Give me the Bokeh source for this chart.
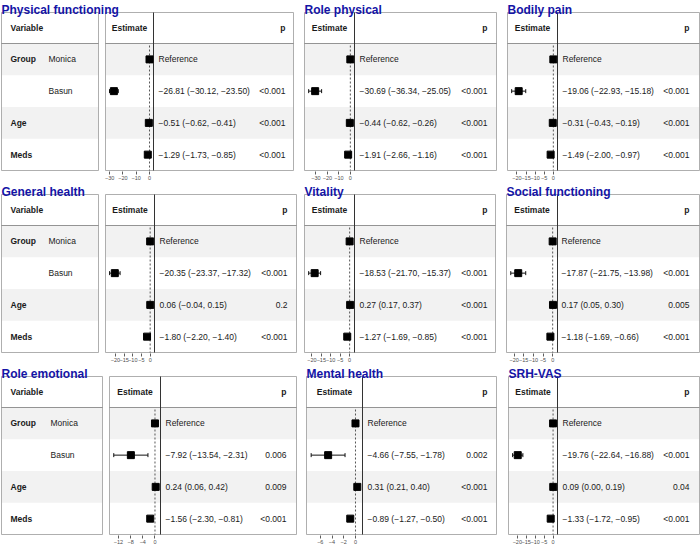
import numpy as np
from bokeh.plotting import figure
from bokeh.models import Range1d, LinearAxis, FixedTicker
from bokeh.layouts import column, row
from bokeh.core.properties import value
from bokeh.embed import file_html
from bokeh.resources import INLINE

# ---------------- data ----------------
titles = ["Physical functioning", "Role physical", "Bodily pain",
          "General health", "Vitality", "Social functioning",
          "Role emotional", "Mental health", "SRH-VAS"]
variables = ["Group", "", "Age", "Meds"]
levels = ["Monica", "Basun", "", ""]

basun_est = [-26.81, -30.69, -19.06, -20.35, -18.53, -17.87, -7.92, -4.66, -19.76]
basun_lo = [-30.12, -36.34, -22.93, -23.37, -21.70, -21.75, -13.54, -7.55, -22.64]
basun_hi = [-23.50, -25.05, -15.18, -17.32, -15.37, -13.98, -2.31, -1.78, -16.88]
basun_p = ["<0.001", "<0.001", "<0.001", "<0.001", "<0.001", "<0.001", "0.006", "0.002", "<0.001"]

age_est = [-0.51, -0.44, -0.31, 0.06, 0.27, 0.17, 0.24, 0.31, 0.09]
age_lo = [-0.62, -0.62, -0.43, -0.04, 0.17, 0.05, 0.06, 0.21, 0.00]
age_hi = [-0.41, -0.26, -0.19, 0.15, 0.37, 0.30, 0.42, 0.40, 0.19]
age_p = ["<0.001", "<0.001", "<0.001", "0.2", "<0.001", "0.005", "0.009", "<0.001", "0.04"]

meds_est = [-1.29, -1.91, -1.49, -1.80, -1.27, -1.18, -1.56, -0.89, -1.33]
meds_lo = [-1.73, -2.66, -2.00, -2.20, -1.69, -1.69, -2.30, -1.27, -1.72]
meds_hi = [-0.85, -1.16, -0.97, -1.40, -0.85, -0.66, -0.81, -0.50, -0.95]
meds_p = ["<0.001", "<0.001", "<0.001", "<0.001", "<0.001", "<0.001", "<0.001", "<0.001", "<0.001"]

axis_ticks = [[-30, -20, -10, 0], [-30, -20, -10, 0], [-20, -15, -10, -5, 0],
              [-20, -15, -10, -5, 0], [-20, -15, -10, -5, 0], [-20, -15, -10, -5, 0],
              [-12, -8, -4, 0], [-6, -4, -2, 0], [-20, -15, -10, -5, 0]]

# ---------------- layout (reference pixel geometry) ----------------
GEO = [
    dict(left=1, right=293, ea=105, eb=153, tx=158, pr=285, vr=98, vx=10, lx=48),
    dict(left=304, right=496, ea=304, eb=354, tx=359, pr=487),
    dict(left=507, right=699, ea=507, eb=557, tx=562, pr=689),
    dict(left=1, right=296, ea=105, eb=154, tx=159, pr=287, vr=98, vx=10, lx=48),
    dict(left=304, right=495, ea=304, eb=354, tx=359, pr=487),
    dict(left=506, right=699, ea=506, eb=557, tx=561, pr=689),
    dict(left=1, right=296, ea=109, eb=160, tx=165, pr=286, vr=102, vx=10, lx=50),
    dict(left=306, right=496, ea=306, eb=362, tx=367, pr=487),
    dict(left=508, right=699, ea=508, eb=557, tx=562, pr=689),
]
S_X = 1.0
S_Y = 1.0
M = 1
TITLE_H = 12
BOX_H = 158
HEAD_H = 31
ROW_H = (BOX_H - HEAD_H) / 4
FONT_NAME = "Liberation Sans"
FONT = value(FONT_NAME)
FS = "8.5px"
TXT = "#1a1a1a"
STRIPE = "#f2f2f2"
BORDER = "#9a9a9a"
TITLE_COL = "#1414a6"


def fmt(e, l, h):
    return f"{e:.2f} ({l:.2f}, {h:.2f})".replace("-", "\u2212")


def make_panel(k, start_px, prev_end):
    g = GEO[k]
    L = g["left"]
    W = g["right"] - L
    a, b = g["ea"] - L, g["eb"] - L
    tx, pr = g["tx"] - L, g["pr"] - L

    est = [0.0, basun_est[k], age_est[k], meds_est[k]]
    lo = [basun_lo[k], age_lo[k], meds_lo[k]]
    hi = [basun_hi[k], age_hi[k], meds_hi[k]]
    dlo = min(lo + [0.0])
    dhi = max(hi + [0.0])
    span = dhi - dlo
    r0, r1 = dlo - 0.1 * span, dhi + 0.1 * span
    kpx = (b - a) / (r1 - r0)
    es = r0 - (a + M) / kpx
    ee = r1 + (W + M - b) / kpx

    end_px = round((g["right"] + M) * S_X)
    fw = end_px - start_px
    p = figure(frame_width=fw, frame_height=round((BOX_H + M + TITLE_H) * S_Y),
               x_range=Range1d(-M, W + M), y_range=Range1d(BOX_H + M, -TITLE_H),
               output_backend="svg", toolbar_location=None,
               x_axis_location=None, y_axis_location=None,
               min_border_left=start_px - prev_end, min_border_right=0,
               min_border_top=0, min_border_bottom=0,
               outline_line_color=None, background_fill_color="white",
               border_fill_color="white")
    p.xgrid.grid_line_color = None
    p.ygrid.grid_line_color = None
    p.extra_x_ranges = {"est": Range1d(es, ee)}

    ys = [HEAD_H + (i + 0.5) * ROW_H for i in range(4)]
    has_var = "vr" in g
    main_left = a if has_var else 0

    # stripes
    stripe_rows = [0, 2]
    sl, sr, st, sb = [], [], [], []
    for i in stripe_rows:
        y0 = HEAD_H + i * ROW_H
        if has_var:
            sl.append(0); sr.append(g["vr"] - L)
            st.append(y0); sb.append(y0 + ROW_H)
        sl.append(main_left); sr.append(W)
        st.append(y0); sb.append(y0 + ROW_H)
    p.quad(left=sl, right=sr, top=st, bottom=sb, fill_color=STRIPE, line_color=None)

    # boxes
    bl, br = [main_left], [W]
    if has_var:
        bl.append(0); br.append(g["vr"] - L)
    p.quad(left=bl, right=br, top=[0] * len(bl), bottom=[BOX_H] * len(bl),
           fill_color=None, line_color=BORDER, line_width=0.8)
    p.segment(x0=bl, x1=br, y0=[HEAD_H] * len(bl), y1=[HEAD_H] * len(bl),
              line_color="#7a7a7a", line_width=0.8)
    # estimate column right line
    p.segment(x0=[b], x1=[b], y0=[0], y1=[BOX_H], line_color="#333333", line_width=1)

    # zero line
    p.segment(x0=[0], x1=[0], y0=[HEAD_H + 2], y1=[BOX_H], x_range_name="est",
              line_color="#444444", line_dash="2 2", line_width=0.9)

    # error bars
    yy = ys[1:]
    p.segment(x0=lo, x1=hi, y0=yy, y1=yy, x_range_name="est", line_color="#111111", line_width=1)
    cap_y0 = [y - 2 for y in yy]
    cap_y1 = [y + 2 for y in yy]
    p.segment(x0=lo, x1=lo, y0=cap_y0, y1=cap_y1, x_range_name="est", line_color="#111111", line_width=1)
    p.segment(x0=hi, x1=hi, y0=cap_y0, y1=cap_y1, x_range_name="est", line_color="#111111", line_width=1)
    p.scatter(x=est, y=ys, marker="square", size=7, color="black", x_range_name="est")

    # texts
    labels = ["Reference"] + [fmt(e, l, h) for e, l, h in zip(est[1:], lo, hi)]
    pvals = ["", basun_p[k], age_p[k], meds_p[k]]
    p.text(x=[tx] * 4, y=ys, text=labels, text_font=FONT, text_font_size=FS,
           text_baseline="middle", text_align="left", text_color=TXT)
    p.text(x=[pr] * 4, y=ys, text=pvals, text_font=FONT, text_font_size=FS,
           text_baseline="middle", text_align="right", text_color=TXT)
    # headers
    p.text(x=[(a + b) / 2], y=[HEAD_H / 2], text=["Estimate"], text_font=FONT, text_font_size=FS,
           text_font_style="bold", text_baseline="middle", text_align="center", text_color=TXT)
    p.text(x=[pr], y=[HEAD_H / 2], text=["p"], text_font=FONT, text_font_size=FS,
           text_font_style="bold", text_baseline="middle", text_align="right", text_color=TXT)
    if has_var:
        vx, lx = g["vx"] - L, g["lx"] - L
        p.text(x=[vx], y=[HEAD_H / 2], text=["Variable"], text_font=FONT, text_font_size=FS,
               text_font_style="bold", text_baseline="middle", text_align="left", text_color=TXT)
        p.text(x=[vx] * 4, y=ys, text=variables, text_font=FONT, text_font_size=FS,
               text_font_style="bold", text_baseline="middle", text_align="left", text_color=TXT)
        p.text(x=[lx] * 4, y=ys, text=levels, text_font=FONT, text_font_size=FS,
               text_baseline="middle", text_align="left", text_color=TXT)

    # title
    p.text(x=[0], y=[-2.8], text=[titles[k]], text_font=FONT, text_font_size="12px",
           text_font_style="bold", text_baseline="alphabetic", text_align="left", text_color=TITLE_COL)

    # axis
    ticks = axis_ticks[k]
    ax = LinearAxis(x_range_name="est", ticker=FixedTicker(ticks=ticks),
                    axis_line_color=None, major_tick_out=3, major_tick_in=0,
                    major_tick_line_color="#333333", major_tick_line_width=0.8,
                    minor_tick_line_color=None, major_label_standoff=1,
                    major_label_text_font_size="5.5px", major_label_text_color="#4d4d4d",
                    major_label_text_font=FONT_NAME,
                    major_label_overrides={t: str(t).replace("-", "\u2212") for t in ticks})
    p.add_layout(ax, "below")
    return p, end_px


rows = []
for r in range(3):
    figs = []
    cur = 0
    for c in range(3):
        k = r * 3 + c
        start = round((GEO[k]["left"] - M) * S_X)
        f, cur = make_panel(k, start, cur)
        figs.append(f)
    rows.append(row(*figs, spacing=0))

layout = column(*rows, spacing=0)
open("out.html", "w").write(file_html(layout, INLINE))
